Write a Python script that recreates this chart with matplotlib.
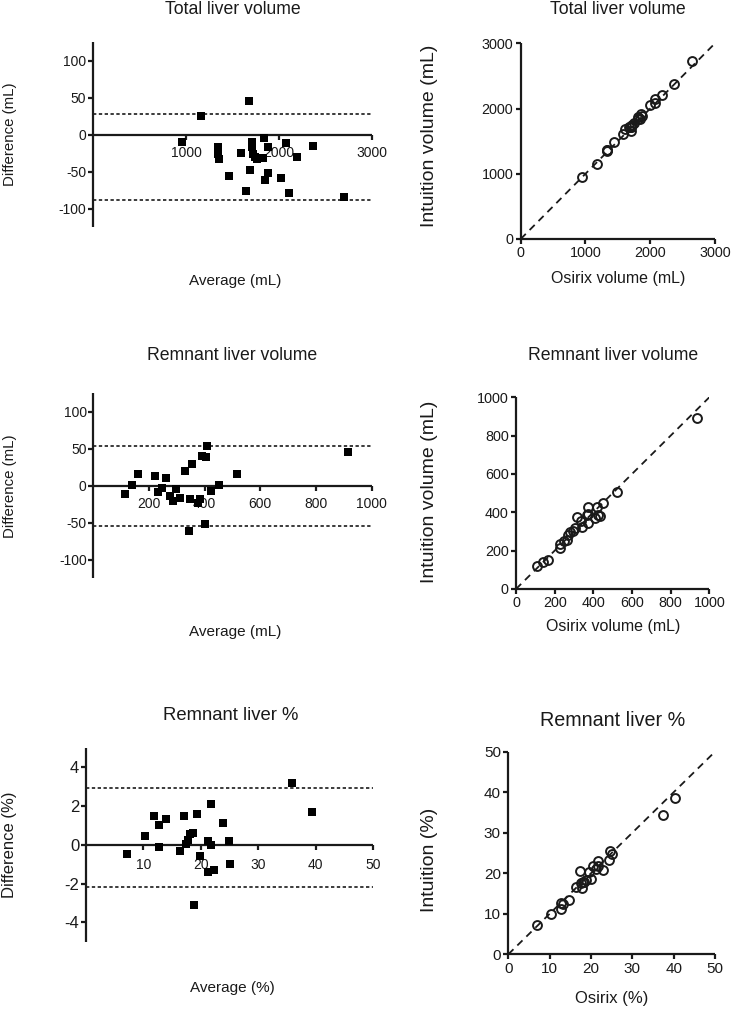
import matplotlib
matplotlib.use("Agg")
import matplotlib.pyplot as plt

plt.rcParams['font.family'] = ['Liberation Sans', 'DejaVu Sans']
plt.rcParams['axes.unicode_minus'] = False

W, H = 731, 1009
DPI = 100

# ---------------- data ----------------
# Bland-Altman: total liver volume (average, difference Osirix - Intuition)
tlv_avg = [952, 1159, 1345, 1345, 1352, 1463, 1592, 1646, 1678, 1692, 1707, 1714, 1721,
           1739, 1764, 1828, 1839, 1846, 1882, 1886, 2018, 2079, 2107, 2190, 2368, 2694]
tlv_diff = [-10.8, 25.6, -16.6, -26.5, -33.6, -56, -24.7, -77, 45.3, -48, -10, -16.6, -26.5,
            -30, -32.7, -31.4, -4.5, -62, -16.6, -52.5, -59, -11, -79, -31, -15.7, -84]
tlv_limits = [28.2, -88.6]

# Scatter: total liver volume
tlv_osirix = [947, 1172, 1337, 1332, 1335, 1435, 1580, 1608, 1701, 1668, 1702, 1706, 1708,
              1724, 1748, 1812, 1837, 1815, 1874, 1860, 1989, 2074, 2068, 2175, 2360, 2652]
tlv_intuition = [957, 1146, 1353, 1358, 1369, 1491, 1604, 1685, 1655, 1716, 1712, 1722, 1734,
                 1754, 1780, 1844, 1841, 1877, 1890, 1912, 2048, 2085, 2147, 2206, 2376, 2736]

# Bland-Altman: remnant liver volume
rlv_avg = [115, 140, 160, 221.6, 232, 247, 260, 277, 287, 298, 311, 330.5, 344, 346, 356,
           376, 383, 390, 405, 401, 407, 424, 451.5, 516, 916]
rlv_diff = [-11.3, 0.5, 15.8, 12.6, -8.6, -2.7, 9.9, -13.5, -19.9, -4, -16.3, 19.9, -60.5,
            -17.2, 28.9, -22.6, -18, 39.7, 38.8, -51.5, 54.2, -7.2, 0.5, 15.4, 45]
rlv_limits = [54.2, -53.7]

# Scatter: remnant liver volume
rlv_osirix = [109, 140, 168, 228, 228, 246, 265, 270, 277, 296, 303, 340, 314, 337, 370,
              365, 374, 410, 424, 375, 434, 420, 452, 524, 938]
rlv_intuition = [121, 140, 152, 215, 236, 248, 255, 284, 297, 300, 319, 321, 374, 355, 342,
                 387, 392, 370, 386, 427, 380, 428, 451, 508, 894]

# Bland-Altman: remnant liver %
rlp_avg = [7.1, 10.2, 11.9, 12.7, 12.8, 13.95, 16.45, 17.1, 17.5, 17.85, 18.1, 18.6, 18.9,
           19.3, 19.9, 21.2, 21.2, 21.8, 21.8, 22.3, 23.8, 24.9, 25.1, 35.9, 39.4]
rlp_diff = [-0.46, 0.43, 1.5, -0.12, 1.0, 1.3, -0.3, 1.5, 0.05, 0.26, 0.53, 0.61, -3.1,
            1.59, -0.6, -1.42, 0.19, 2.1, 0.0, -1.32, 1.11, 0.19, -1.02, 3.19, 1.71]
rlp_limits = [2.92, -2.17]

# Scatter: remnant liver %
rlp_osirix = [6.87, 10.42, 12.65, 12.64, 13.3, 14.6, 16.3, 17.85, 17.53, 17.98, 18.37, 18.9,
              17.35, 20.1, 19.6, 20.49, 21.3, 22.85, 21.8, 21.64, 24.36, 25.0, 24.6, 37.5, 40.25]
rlp_intuition = [7.33, 9.99, 11.15, 12.76, 12.3, 13.3, 16.6, 16.35, 17.48, 17.72, 17.84, 18.3,
                 20.45, 18.5, 20.2, 21.91, 21.1, 20.75, 21.8, 22.96, 23.25, 24.8, 25.6, 34.3, 38.55]

fig = plt.figure(figsize=(W / DPI, H / DPI), dpi=DPI)

INK = '#1a1a1a'


def ax_px(x0, y0, x1, y1):
    return fig.add_axes([x0 / W, (H - y1) / H, (x1 - x0) / W, (y1 - y0) / H])


def txt(x, y, s, size, rot=0):
    fig.text(x / W, (H - y) / H, s, ha='center', va='center', fontsize=size,
             rotation=rot, color=INK)


SP_LW = 1.6
TICK_LEN = 3.8


def style(ax):
    for s in ['top', 'right']:
        ax.spines[s].set_visible(False)
    for s in ['left', 'bottom']:
        ax.spines[s].set_linewidth(SP_LW)
        ax.spines[s].set_capstyle('butt')
        ax.spines[s].set_color(INK)
    ax.tick_params(direction='out', length=TICK_LEN, width=SP_LW, colors=INK)
    ax.patch.set_visible(False)


def bland(ax, avg, diff, limits, xlim, xticks, ylim, yticks, xt_size, yt_size, xpad):
    style(ax)
    ax.spines['bottom'].set_position(('data', 0))
    ax.set_xlim(*xlim)
    ax.set_ylim(*ylim)
    ax.set_xticks(xticks)
    ax.set_yticks(yticks)
    ax.tick_params(axis='x', labelsize=xt_size, pad=xpad)
    ax.tick_params(axis='y', labelsize=yt_size, pad=1)
    for v in limits:
        ax.axhline(v, color=INK, lw=1.2, ls=(0, (2.0, 1.5)), zorder=1)
    ax.plot(avg, diff, ls='none', marker='s', ms=5.2, mfc='black', mec='black',
            mew=0, zorder=3, clip_on=False)


def scatter(ax, xs, ys, lim, ticks, t_size):
    style(ax)
    ax.set_xlim(0, lim)
    ax.set_ylim(0, lim)
    ax.set_xticks(ticks)
    ax.set_yticks(ticks)
    ax.tick_params(labelsize=t_size, pad=1.5)
    ax.plot([0, lim], [0, lim], color=INK, lw=1.3, ls=(0, (4, 3)), zorder=1)
    ax.plot(xs, ys, ls='none', marker='o', ms=6.4, mfc='none', mec=INK,
            mew=1.4, zorder=3, clip_on=False)


# ---- row 1 ----
a1 = ax_px(93, 42, 372, 227)
bland(a1, tlv_avg, tlv_diff, tlv_limits, (0, 3000), [1000, 2000, 3000],
      (-125, 125), [-100, -50, 0, 50, 100], 10, 10, 4.5)
a2 = ax_px(520.7, 43.3, 715, 239)
scatter(a2, tlv_osirix, tlv_intuition, 3000, [0, 1000, 2000, 3000], 10.4)

txt(232.5, 10, 'Total liver volume', 12.7)
txt(618, 10, 'Total liver volume', 12.7)
txt(235, 281, 'Average (mL)', 11)
txt(10, 134, 'Difference (mL)', 10.8, 90)
txt(430, 136, 'Intuition volume (mL)', 14, 90)
txt(618, 278, 'Osirix volume (mL)', 11.5)

# ---- row 2 ----
a3 = ax_px(93.3, 393.3, 371.7, 578.3)
bland(a3, rlv_avg, rlv_diff, rlv_limits, (0, 1000), [200, 400, 600, 800, 1000],
      (-125, 125), [-100, -50, 0, 50, 100], 10, 10, 4.5)
a4 = ax_px(516, 397.3, 709.3, 589)
scatter(a4, rlv_osirix, rlv_intuition, 1000, [0, 200, 400, 600, 800, 1000], 10.4)

txt(232, 356, 'Remnant liver volume', 12.7)
txt(613, 356, 'Remnant liver volume', 12.7)
txt(235, 632, 'Average (mL)', 11)
txt(10, 486, 'Difference (mL)', 10.8, 90)
txt(430, 492, 'Intuition volume (mL)', 14, 90)
txt(613, 627, 'Osirix volume (mL)', 11.5)

# ---- row 3 ----
a5 = ax_px(86, 747.7, 373, 941.7)
bland(a5, rlp_avg, rlp_diff, rlp_limits, (0, 50), [10, 20, 30, 40, 50],
      (-5, 5), [-4, -2, 0, 2, 4], 10, 12, 5.5)
a6 = ax_px(508.3, 751.7, 715, 954.3)
scatter(a6, rlp_osirix, rlp_intuition, 50, [0, 10, 20, 30, 40, 50], 11)

txt(231, 715, 'Remnant liver %', 13.3)
txt(612.5, 720, 'Remnant liver %', 14.2)
txt(232, 988, 'Average (%)', 11)
txt(10, 845, 'Difference (%)', 12, 90)
txt(430, 860, 'Intuition (%)', 14, 90)
txt(612, 998, 'Osirix (%)', 12)

fig.savefig('out.png', dpi=DPI, facecolor='white')
